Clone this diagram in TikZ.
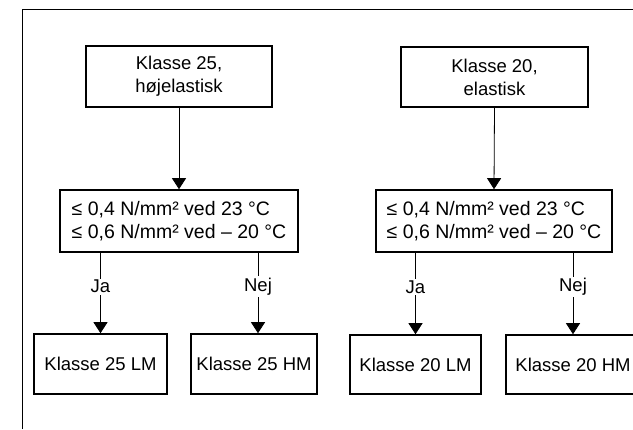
\documentclass[tikz,border=0pt]{standalone}
\usepackage{fontspec}
\setmainfont{Liberation Sans}
\usetikzlibrary{arrows.meta}
\begin{document}
\begin{tikzpicture}[x=1bp,y=-1bp,
  box/.style={draw=black, line width=1.6bp, inner sep=0pt, align=center,
    font=\fontsize{18.5bp}{23bp}\selectfont},
  cond/.style={box, align=left, font=\fontsize{19.5bp}{23bp}\selectfont},
  conn/.style={draw=black, line width=0.8bp},
  arr/.style={conn, -{Triangle[width=14bp,length=11bp]}},
  lbl/.style={fill=white, inner sep=1.5bp, font=\fontsize{18.5bp}{23bp}\selectfont},
  frame/.style={draw=black, line width=0.9bp}]
\useasboundingbox (0,0) rectangle (633,429);
\clip (0,0) rectangle (633,429);
\fill[white] (0,0) rectangle (633,429);
% partial frame
\coordinate (ftl) at (22,9);
\coordinate (fbl) at (22,429);
\coordinate (ftr) at (633,9);
\draw[frame] (fbl) -- (ftl) -- (ftr);
% left tree
\node[box, minimum width=186bp, minimum height=61bp] (k25) at (179,76.5) {Klasse 25,\\højelastisk};
\node[cond, minimum width=238bp, minimum height=62bp] (c25) at (179,221)
  {≤ 0,4 N/mm² ved 23 °C\\≤ 0,6 N/mm² ved – 20 °C};
\node[box, minimum width=133bp, minimum height=60bp] (lm25) at (100.5,364) {Klasse 25 LM};
\node[box, minimum width=126bp, minimum height=60bp] (hm25) at (254,364) {Klasse 25 HM};
% right tree
\node[box, minimum width=187bp, minimum height=60bp] (k20) at (494.5,77) {Klasse 20,\\elastisk};
\node[cond, minimum width=236bp, minimum height=62bp] (c20) at (494,221)
  {≤ 0,4 N/mm² ved 23 °C\\≤ 0,6 N/mm² ved – 20 °C};
\node[box, minimum width=131bp, minimum height=59bp] (lm20) at (415.5,364.5) {Klasse 20 LM};
\node[box, minimum width=134bp, minimum height=59bp] (hm20) at (573,364.5) {Klasse 20 HM};
% connectors
\draw[arr] (k25.south) -- (c25.north);
\draw[arr] (k20.south) -- (c20.north);
\draw[arr] (c25.south -| lm25.north) -- node[lbl, pos=0.42] {Ja} (lm25.north);
\draw[arr] ([xshift=4bp]hm25.north |- c25.south) -- node[lbl, pos=0.42] {Nej} ([xshift=4bp]hm25.north);
\draw[arr] (c20.south -| lm20.north) -- node[lbl, pos=0.42] {Ja} (lm20.north);
\draw[arr] (c20.south -| hm20.north) -- node[lbl, pos=0.42] {Nej} (hm20.north);
\end{tikzpicture}
\end{document}
